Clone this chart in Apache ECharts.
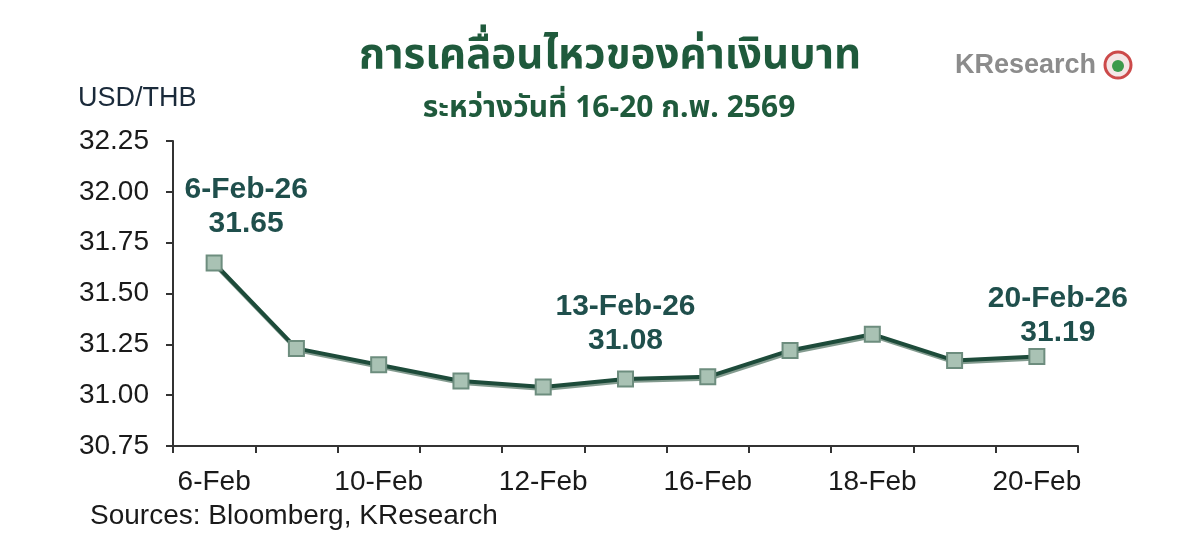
<!DOCTYPE html>
<html><head><meta charset="utf-8">
<script src="https://cdn.jsdelivr.net/npm/echarts@6/dist/echarts.min.js"></script>
<style>html,body{margin:0;padding:0;background:#fff}#c{width:1200px;height:547px}</style>
</head><body><div id="c"></div>
<script>
const categories = ['6-Feb','9-Feb','10-Feb','11-Feb','12-Feb','13-Feb','16-Feb','17-Feb','18-Feb','19-Feb','20-Feb'];
const rates = [31.65, 31.23, 31.15, 31.07, 31.04, 31.08, 31.09, 31.22, 31.30, 31.17, 31.19];
const annotations = [
  {index: 0, text: '6-Feb-26\n31.65'},
  {index: 5, text: '13-Feb-26\n31.08'},
  {index: 10, text: '20-Feb-26\n31.19'}
];
const yTicks = {min: 30.75, max: 32.25, interval: 0.25};
const titleText = 'การเคลื่อนไหวของค่าเงินบาท';
const subtitleText = 'ระหว่างวันที่ 16-20 ก.พ. 2569';

const FONT = 'Liberation Sans, Arial, sans-serif';
const annOffsets = {0: [32, -9], 5: [0, -8], 10: [21, 7]};
const seriesData = rates.map((v, i) => {
  const a = annotations.find(x => x.index === i);
  if (!a) return v;
  return {value: v, label: {show: true, formatter: a.text, position: 'top', offset: annOffsets[i],
    color: '#1f4f4c', fontSize: 30, fontWeight: 'bold', lineHeight: 34, fontFamily: FONT}};
});

const chart = echarts.init(document.getElementById('c'));
chart.setOption({
  animation: false,
  backgroundColor: '#fff',
  title: [
    {text: titleText, left: 605, top: 34, textAlign: 'center',
      textStyle: {fontSize: 42, fontWeight: 'bold', color: '#1f5a3c', fontFamily: 'Noto Sans Thai, Noto Sans, DejaVu Sans, sans-serif'}},
    {text: subtitleText, left: 604, top: 91, textAlign: 'center',
      textStyle: {fontSize: 30, fontWeight: 'bold', color: '#1f5a3c', fontFamily: 'Noto Sans Thai, Noto Sans, DejaVu Sans, sans-serif'}}
  ],
  graphic: [
    {type: 'text', left: 78, top: 85, style: {text: 'USD/THB', fontSize: 27, fill: '#1a2a3a', fontFamily: FONT}},
    {type: 'text', left: 90, top: 502, style: {text: 'Sources: Bloomberg, KResearch', fontSize: 28, fill: '#1a1a1a', fontFamily: FONT}},
    {type: 'text', left: 955, top: 52, style: {text: 'KResearch', fontSize: 27, fontWeight: 'bold', fill: '#8c8c8c', fontFamily: FONT}},
    {type: 'circle', shape: {cx: 1118, cy: 65, r: 13}, style: {fill: '#f4e6e6', stroke: '#cc4a4a', lineWidth: 3}},
    {type: 'circle', shape: {cx: 1118, cy: 66, r: 6}, style: {fill: '#3c9a4c'}}
  ],
  grid: {left: 173, right: 122, top: 141, bottom: 101, containLabel: false},
  xAxis: {
    type: 'category', data: categories, boundaryGap: true,
    axisLine: {lineStyle: {color: '#333', width: 2}},
    axisTick: {show: true, interval: 0, length: 7, alignWithLabel: false, lineStyle: {color: '#333', width: 2}},
    axisLabel: {interval: 1, color: '#1a1a1a', fontSize: 28, margin: 22, fontFamily: FONT},
    splitLine: {show: false}
  },
  yAxis: {
    type: 'value', min: yTicks.min, max: yTicks.max, interval: yTicks.interval,
    axisLine: {show: true, lineStyle: {color: '#333', width: 2}},
    axisTick: {show: true, length: 7, lineStyle: {color: '#333', width: 2}},
    axisLabel: {color: '#1a1a1a', fontSize: 28, margin: 24, formatter: v => v.toFixed(2), fontFamily: FONT},
    splitLine: {show: false}
  },
  series: [{
    type: 'line', data: seriesData,
    symbol: 'rect', symbolSize: 15,
    itemStyle: {color: '#a9c2b4', borderColor: '#6d8d7e', borderWidth: 2},
    lineStyle: {color: '#1d4b3a', width: 4, shadowColor: 'rgba(100,130,115,0.8)', shadowOffsetY: 2, shadowOffsetX: 1},
    label: {show: false}
  }]
});
</script></body></html>
